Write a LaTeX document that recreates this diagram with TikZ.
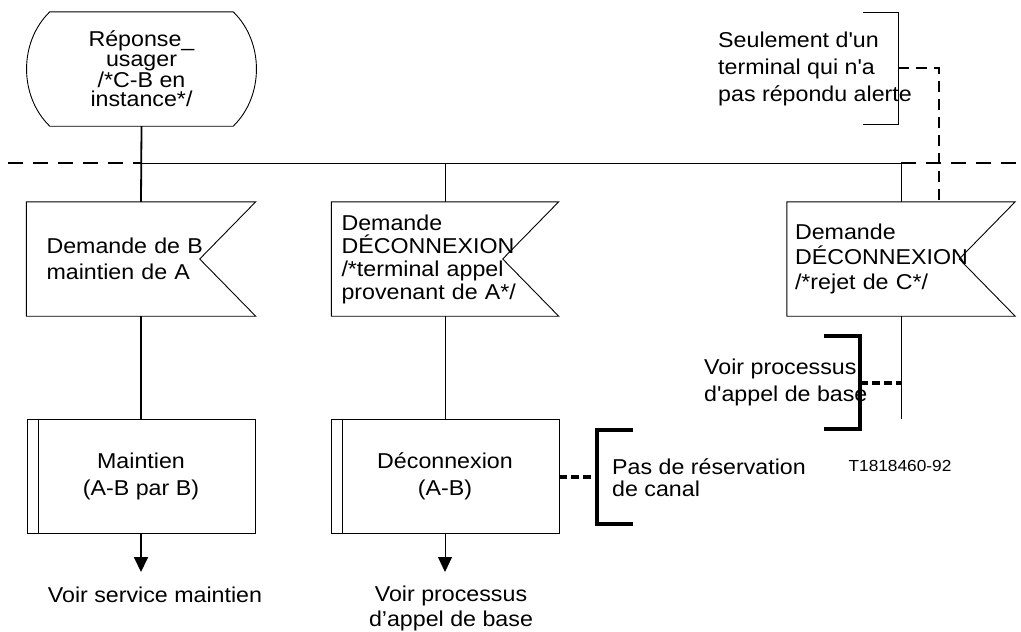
\documentclass[tikz,border=0pt]{standalone}
\usepackage{fontspec}
\setmainfont{Liberation Sans}[Ligatures=TeXOff,FakeStretch=1.08]
\usetikzlibrary{arrows.meta}

\begin{document}
\begin{tikzpicture}[x=1pt,y=-1pt]
        \tikzstyle{every node}=[rectangle, inner sep=0pt, font=\fontsize{21.5}{23}\selectfont, text=black]
        \tikzstyle{outline}=[black, line width=0.9pt]
        \tikzstyle{flow}=[black, line width=1pt]
        \tikzstyle{mainflow}=[black, line width=1.8pt]
        \tikzstyle{border}=[black, line width=1.5pt, dash pattern=on 15pt off 10pt]
        \tikzstyle{link}=[black, line width=3.2pt, dash pattern=on 8pt off 4pt]
        \tikzstyle{thinlink}=[black, line width=1.5pt, dash pattern=on 11pt off 7pt]
        \tikzstyle{bracket}=[black, line width=3.5pt]
        \tikzstyle{tip}=[-{Triangle[length=15pt,width=14pt]}]
        \tikzstyle{note}=[anchor=west, align=left]

        \useasboundingbox (0,0) rectangle (1021,632);

        % state
        \node[minimum width=183pt, minimum height=114pt, align=center, font=\fontsize{21.5}{19.5}\selectfont] (etat) at (141.5,69) {Réponse\_\\usager\\/*C-B en\\instance*/};
        \draw[outline] (etat.north east) -- (etat.north west) .. controls +(-31,30) and +(-31,-30) .. (etat.south west) -- (etat.south east) .. controls +(31,-30) and +(31,30) .. (etat.north east);

        % inputs
        \node[minimum width=229pt, minimum height=114pt, inner xsep=20pt, text width=189pt, align=left, font=\fontsize{21.5}{26}\selectfont] (dem1) at (141,259) {Demande de B\\maintien de A};
        \node[minimum width=227pt, minimum height=114pt, inner xsep=10pt, text width=207pt, align=left] (dem2) at (445,259) {Demande\\DÉCONNEXION\\/*terminal appel\\provenant de A*/};
        \node[minimum width=228pt, minimum height=114pt, inner xsep=8pt, text width=212pt, align=left, font=\fontsize{21.5}{25}\selectfont] (dem3) at (901,259) {Demande\\DÉCONNEXION\\/*rejet de C*/};
        \foreach \n in {dem1,dem2,dem3}
            \draw[outline] (\n.north west) -- (\n.north east) -- ([xshift=-56pt]\n.east) -- (\n.south east) -- (\n.south west) -- cycle;

        % procedures
        \node[draw, outline, minimum width=228pt, minimum height=114pt, align=center, font=\fontsize{21.5}{27}\selectfont] (proc1) at (141,476) {Maintien\\(A-B par B)};
        \node[draw, outline, minimum width=228pt, minimum height=114pt, align=center, font=\fontsize{21.5}{27}\selectfont] (proc2) at (445,476) {Déconnexion\\(A-B)};
        \foreach \n in {proc1,proc2}
            \draw[outline] ([xshift=12pt]\n.north west) -- ([xshift=12pt]\n.south west);

        \node (suite1) at (155,595) {Voir service maintien};
        \node[align=center, font=\fontsize{21.5}{25}\selectfont] (suite2) at (451,608) {Voir processus\\d’appel de base};

        % comments
        \node[note, font=\fontsize{21.5}{27}\selectfont] (com1) at (718,69) {Seulement d'un\\terminal qui n'a\\pas répondu alerte};
        \node[note, font=\fontsize{21.5}{27}\selectfont] (com2) at (704,382) {Voir processus\\d'appel de base};
        \node[note, font=\fontsize{21.5}{22}\selectfont] (com3) at (612,478) {Pas de réservation\\de canal};
        \node[font=\fontsize{16}{18}\selectfont] (ref) at (900,466) {T1818460-92};

        % connectors
        \coordinate (g) at (8,163);
        \coordinate (d) at (1021,163);
        \coordinate (j1) at (141,163);
        \coordinate (j2) at (445,163);
        \coordinate (j3) at (901,163);
        \coordinate (fin3) at (901,419);
        \coordinate (bout1) at (141,572);
        \coordinate (bout2) at (445,572);

        \draw[mainflow] (etat.south) -- (dem1.north);
        \draw[mainflow] (dem1.south) -- (proc1.north);
        \draw[mainflow, tip] (proc1.south) -- (bout1);
        \draw[flow] (j1) -- (j3);
        \draw[flow] (j2) -- (dem2.north);
        \draw[flow] (j3) -- (dem3.north);
        \draw[flow] (dem2.south) -- (proc2.north);
        \draw[flow, tip] (proc2.south) -- (bout2);
        \draw[flow] (dem3.south) -- (fin3);
        \draw[border] (g) -- (j1);
        \draw[border] (j3) -- (d);

        % brackets
        \coordinate (k1) at (898,68);
        \coordinate (k1b) at (939,202);
        \coordinate (k2) at (860,383);
        \coordinate (k2b) at (901,383);
        \coordinate (k3) at (597,477);

        \draw[outline] ([shift={(-35,-56)}]k1) -- ++(35,0) -- ++(0,112) -- ++(-35,0);
        \draw[thinlink] (k1) -| (k1b);
        \draw[bracket] ([shift={(-36,-47)}]k2) -- ++(36,0) -- ++(0,93) -- ++(-36,0);
        \draw[link] (k2) -- (k2b);
        \draw[bracket] ([shift={(36,-47)}]k3) -- ++(-36,0) -- ++(0,94) -- ++(36,0);
        \draw[link] (proc2.east |- k3) -- (k3);
\end{tikzpicture}
\end{document}
